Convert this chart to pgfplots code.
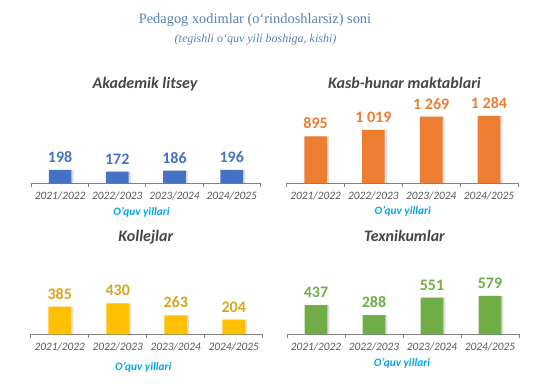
\documentclass[border=0pt]{standalone}
\usepackage{fontspec}
\setmainfont{Carlito}
\newfontfamily\timesf{Liberation Serif}
\usepackage{pgfplots}
\pgfplotsset{compat=1.18}
\definecolor{cblue}{RGB}{68,114,196}
\definecolor{corange}{RGB}{237,125,49}
\definecolor{cgold}{RGB}{255,192,0}
\definecolor{cgoldtxt}{RGB}{212,166,30}
\definecolor{cgreen}{RGB}{112,173,71}
\definecolor{titleblue}{RGB}{84,130,180}
\definecolor{ptitle}{RGB}{70,70,70}
\definecolor{tickgray}{RGB}{89,89,89}
\definecolor{axisgray}{RGB}{130,130,130}
\definecolor{xlblue}{RGB}{0,166,230}
\pgfplotsset{
  panel/.style={
    anchor=south west, scale only axis, height=60pt,
    xmin=-0.5, xmax=3.5, ymin=0,
    axis x line*=bottom, axis y line=none,
    xtick={0,1,2,3}, xticklabels={2021/2022,2022/2023,2023/2024,2024/2025},
    major tick length=0pt,
    minor xtick={-0.5,0.5,1.5,2.5,3.5},
    minor tick length=3pt, tick align=outside,
    x axis line style={draw=axisgray, line width=0.75pt, -},
    minor x tick style={draw=axisgray, line width=0.6pt},
    xticklabel style={font=\itshape\fontsize{8.5}{10}\selectfont, text=tickgray, anchor=base, yshift=-12.2pt},
    ybar, bar width=17pt,
    /pgf/number format/assume math mode=true,
    /pgf/number format/1000 sep={\ },
    clip=false,
  },
  shadowbar/.style={fill=black, opacity=0.13, draw=none, bar shift=1.6pt, forget plot},
  mainbar/.style={fill=#1, draw=none, bar shift=0pt,
    nodes near coords,
    nodes near coords style={font=\bfseries\fontsize{12}{14}\selectfont, text=#1, anchor=south, yshift=2pt, opacity=1}},
}
\begin{document}
\begin{tikzpicture}
\path[use as bounding box] (0,0) rectangle (420pt,-287.25pt);
% main titles
\node[anchor=base, font=\timesf\fontsize{10.8}{12}\selectfont, text=titleblue] at ({255*0.75pt},{-23*0.75pt}) {Pedagog xodimlar (o‘rindoshlarsiz) soni};
\node[anchor=base, font=\timesf\itshape\fontsize{9}{10}\selectfont, text=titleblue] at ({255.5*0.75pt},{-42*0.75pt}) {(tegishli o‘quv yili boshiga, kishi)};
% panel titles
\node[anchor=base, font=\bfseries\itshape\fontsize{12}{14}\selectfont, text=ptitle] at ({145*0.75pt},{-88*0.75pt}) {Akademik litsey};
\node[anchor=base, font=\bfseries\itshape\fontsize{12}{14}\selectfont, text=ptitle] at ({404.5*0.75pt},{-88*0.75pt}) {Kasb-hunar maktablari};
\node[anchor=base, font=\bfseries\itshape\fontsize{12}{14}\selectfont, text=ptitle] at ({145.8*0.75pt},{-241.7*0.75pt}) {Kollejlar};
\node[anchor=base, font=\bfseries\itshape\fontsize{12}{14}\selectfont, text=ptitle] at ({404.5*0.75pt},{-241.7*0.75pt}) {Texnikumlar};
% x labels
\node[anchor=base, font=\bfseries\itshape\fontsize{8.5}{10}\selectfont, text=xlblue] at ({141.5*0.75pt},{-215*0.75pt}) {O’quv yillari};
\node[anchor=base, font=\bfseries\itshape\fontsize{8.5}{10}\selectfont, text=xlblue] at ({402.8*0.75pt},{-214*0.75pt}) {O’quv yillari};
\node[anchor=base, font=\bfseries\itshape\fontsize{8.5}{10}\selectfont, text=xlblue] at ({143.3*0.75pt},{-370*0.75pt}) {O’quv yillari};
\node[anchor=base, font=\bfseries\itshape\fontsize{8.5}{10}\selectfont, text=xlblue] at ({402*0.75pt},{-366*0.75pt}) {O’quv yillari};

\begin{axis}[panel, at={({31.5*0.75pt},{-183.3*0.75pt})}, width={228.8*0.75pt}, ymax=1176]
\addplot[shadowbar] coordinates {(0,198) (1,172) (2,186) (3,196)};
\addplot[mainbar=cblue] coordinates {(0,198) (1,172) (2,186) (3,196)};
\end{axis}

\begin{axis}[panel, at={({286.7*0.75pt},{-183.3*0.75pt})}, width={231.2*0.75pt}, ymax=1524]
\addplot[shadowbar] coordinates {(0,895) (1,1019) (2,1269) (3,1284)};
\addplot[mainbar=corange] coordinates {(0,895) (1,1019) (2,1269) (3,1284)};
\end{axis}

\begin{axis}[panel, at={({30.7*0.75pt},{-334.3*0.75pt})}, width={232*0.75pt}, ymax=1111]
\addplot[shadowbar] coordinates {(0,385) (1,430) (2,263) (3,204)};
\addplot[mainbar=cgold, nodes near coords style={text=cgoldtxt}] coordinates {(0,385) (1,430) (2,263) (3,204)};
\end{axis}

\begin{axis}[panel, at={({287*0.75pt},{-334.3*0.75pt})}, width={232*0.75pt}, ymax=1203]
\addplot[shadowbar] coordinates {(0,437) (1,288) (2,551) (3,579)};
\addplot[mainbar=cgreen] coordinates {(0,437) (1,288) (2,551) (3,579)};
\end{axis}
\end{tikzpicture}
\end{document}
